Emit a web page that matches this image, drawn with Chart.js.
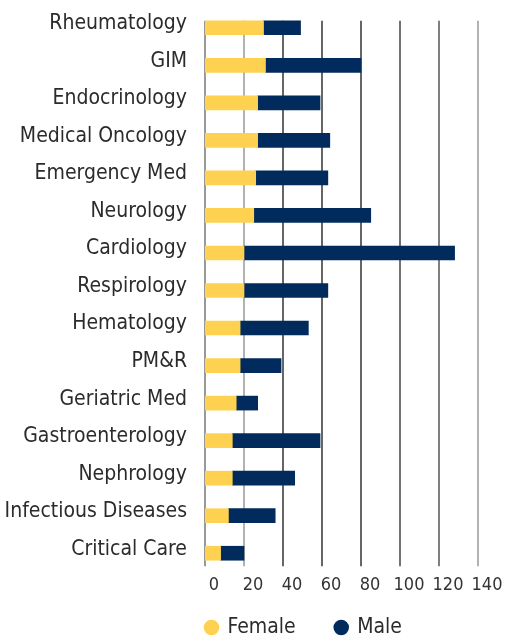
<!DOCTYPE html>
<html>
<head>
<meta charset="utf-8">
<script src="https://cdn.jsdelivr.net/npm/chart.js@4"></script>
<style>
  body { margin: 0; background: #fff; }
  #wrap { width: 505px; height: 639px; }
</style>
</head>
<body>
<div id="wrap"><canvas id="myBarChart"></canvas></div>
<script>
// Data
const categories = ["Rheumatology", "GIM", "Endocrinology", "Medical Oncology", "Emergency Med", "Neurology", "Cardiology", "Respirology", "Hematology", "PM&R", "Geriatric Med", "Gastroenterology", "Nephrology", "Infectious Diseases", "Critical Care"];
const female = [30, 31, 27, 27, 26, 25, 20, 20, 18, 18, 16, 14, 14, 12, 8];
const male = [19, 49, 32, 37, 37, 60, 108, 43, 35, 21, 11, 45, 32, 24, 12];
const xTicks = [0, 20, 40, 60, 80, 100, 120, 140];

const fontFamily = "'DejaVu Sans Condensed', 'Roboto', sans-serif";
Chart.defaults.font.family = fontFamily;
Chart.defaults.color = '#2b2b2b';

// vertical grid lines, only from the first bar top to a bit under the last bar
const gridColors = ['#999', '#999', '#333', '#333', '#333', '#444', '#555', '#999'];
const gridLines = {
  id: 'gridLines',
  beforeDatasetsDraw(chart) {
    const {ctx, scales: {x, y}} = chart;
    const top = y.getPixelForValue(0) - 7;
    const bottom = y.getPixelForValue(categories.length - 1) + 13;
    ctx.save();
    x.ticks.forEach((t, i) => {
      const px = x.getPixelForValue(t.value);
      ctx.strokeStyle = gridColors[i] || '#333';
      ctx.lineWidth = i === 0 ? 2 : 1.5;
      ctx.beginPath();
      ctx.moveTo(px, top);
      ctx.lineTo(px, bottom);
      ctx.stroke();
    });
    ctx.restore();
  }
};

// legend sits under the bars, not centred on the canvas
const legendPlace = {
  id: 'legendPlace',
  afterLayout(chart) {
    const lg = chart.legend;
    lg.left = 130;
    lg.right = 478;
    lg.top = 577;
    lg.bottom = 639;
  }
};

// Bar chart setup
const barChartData = {
  labels: categories,
  datasets: [{
    label: 'Female',
    data: female,
    backgroundColor: '#FED250',
    barThickness: 14
  }, {
    label: 'Male',
    data: male,
    backgroundColor: '#002B5C',
    barThickness: 14
  }]
};

// Bar chart config
const barChartConfig = {
  type: 'bar',
  data: barChartData,
  plugins: [gridLines, legendPlace],
  options: {
    indexAxis: 'y',
    maintainAspectRatio: false,
    animation: false,
    layout: {
      padding: { top: 9, left: 0, right: 27, bottom: 0 }
    },
    plugins: {
      tooltip: { enabled: false },
      legend: {
        position: 'bottom',
        maxHeight: 41,
        labels: {
          usePointStyle: true,
          pointStyle: 'circle',
          boxWidth: 11,
          boxHeight: 11,
          padding: 40,
          color: '#2b2b2b',
          font: { size: 21 }
        }
      }
    },
    scales: {
      x: {
        stacked: true,
        min: 0,
        max: 140,
        afterBuildTicks: s => { s.ticks = xTicks.map(v => ({ value: v })); },
        afterFit: s => { s.height = 26; s.paddingLeft = 0; s.paddingRight = 0; },
        grid: { display: false, drawTicks: false },
        border: { display: false },
        ticks: {
          padding: 3,
          labelOffset: 9,
          color: '#333',
          font: { size: 18 }
        }
      },
      y: {
        stacked: true,
        afterFit: s => { s.width = 205; s.paddingTop = 0; s.paddingBottom = 0; },
        grid: { display: false, drawTicks: false },
        border: { display: false },
        ticks: {
          padding: 18,
          labelOffset: -4,
          color: '#2b2b2b',
          font: { size: 21 }
        }
      }
    }
  }
};

// Bar chart render
const myBarChart = new Chart(
  document.getElementById('myBarChart'),
  barChartConfig
);
</script>
</body>
</html>
